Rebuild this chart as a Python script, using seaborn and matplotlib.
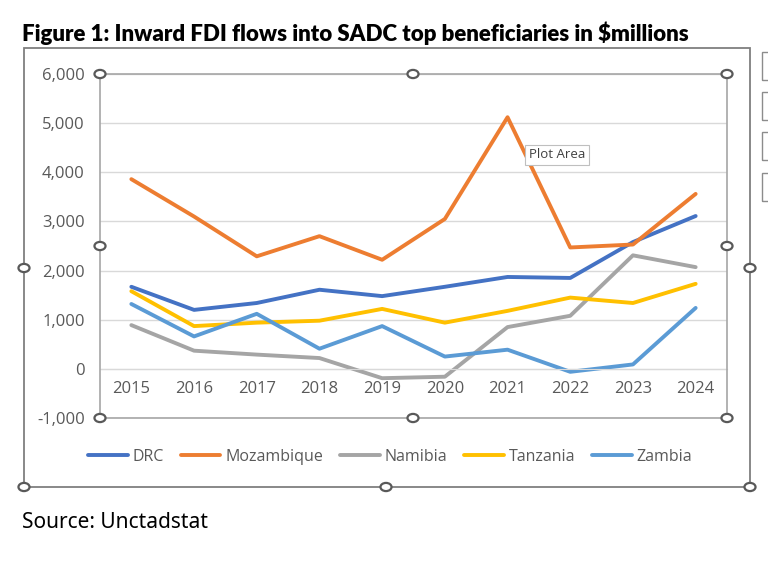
import matplotlib
matplotlib.use('Agg')
import matplotlib.pyplot as plt
from matplotlib.patches import Rectangle, Circle
import seaborn as sns
import pandas as pd

sns.set_style('white')
plt.rcParams['font.family'] = ['Open Sans', 'DejaVu Sans']

years = [2015, 2016, 2017, 2018, 2019, 2020, 2021, 2022, 2023, 2024]
drc = [1670, 1200, 1340, 1610, 1480, 1670, 1870, 1850, 2580, 3110]
mozambique = [3860, 3100, 2290, 2700, 2220, 3050, 5120, 2470, 2530, 3560]
namibia = [890, 370, 290, 220, -190, -160, 850, 1080, 2310, 2070]
tanzania = [1580, 870, 940, 980, 1220, 940, 1180, 1450, 1340, 1730]
zambia = [1320, 660, 1120, 410, 870, 250, 390, -60, 90, 1240]

countries = ['DRC', 'Mozambique', 'Namibia', 'Tanzania', 'Zambia']
colors = ['#4472C4', '#ED7D31', '#A5A5A5', '#FFC000', '#5B9BD5']

frames = []
for name, vals in zip(countries, [drc, mozambique, namibia, tanzania, zambia]):
    frames.append(pd.DataFrame({'year': years, 'value': vals, 'country': name}))
df = pd.concat(frames)

W, H = 768, 568
fig = plt.figure(figsize=(W / 100, H / 100), dpi=100)

def fx(x):
    return x / W

def fy(y):
    return 1 - y / H

ax = fig.add_axes([fx(100), fy(418), fx(727) - fx(100), fy(74) - fy(418)])
sns.lineplot(data=df, x='year', y='value', hue='country', hue_order=countries,
             palette=dict(zip(countries, colors)), lw=2.8, ax=ax, legend=True)

ax.set_xlim(2014.5, 2024.5)
ax.set_ylim(-1000, 6000)
ax.set_yticks(range(-1000, 6001, 1000))
ax.set_yticklabels([f'{v:,}' for v in range(-1000, 6001, 1000)])
ax.set_xticks(years)
ax.set_xlabel('')
ax.set_ylabel('')
ax.grid(axis='y', color='#D9D9D9', lw=1)
ax.set_axisbelow(True)
for s in ['top', 'left', 'right']:
    ax.spines[s].set_visible(False)
ax.spines['bottom'].set_position(('data', 0))
ax.spines['bottom'].set_color('#D9D9D9')
ax.tick_params(axis='x', length=0, pad=9, labelsize=12, labelcolor='#595959')
ax.tick_params(axis='y', length=0, pad=11, labelsize=12, labelcolor='#595959')

# plot area border (selected)
ax.add_patch(Rectangle((0, 0), 1, 1, transform=ax.transAxes, fill=False,
                       ec='#A6A6A6', lw=1.2, clip_on=False, zorder=5))

leg = ax.legend(loc='center', bbox_to_anchor=(fx(390), fy(457)),
                bbox_transform=fig.transFigure, ncol=5, frameon=False,
                fontsize=11.5, handlelength=2.5, handletextpad=0.3,
                columnspacing=1.05)
for t in leg.get_texts():
    t.set_color('#595959')
for h in leg.legend_handles:
    h.set_linewidth(2.8)

# chart area frame
fig.patches.append(Rectangle((fx(24), fy(487)), fx(750) - fx(24), fy(48) - fy(487),
                             transform=fig.transFigure, fill=False, ec='#7F7F7F',
                             lw=1.3, zorder=1))

handles = [(100, 74), (413, 74), (727, 74), (100, 246), (727, 246),
           (100, 418), (413, 418), (727, 418),
           (24, 268), (750, 268), (24, 487), (386, 487), (750, 487)]
for hx, hy in handles:
    fig.patches.append(Circle((fx(hx), fy(hy)), 0.0072, transform=fig.transFigure,
                              fc='white', ec='#595959', lw=1.6, zorder=6))

# chart buttons on the right edge
for by in [52, 92, 132, 173]:
    fig.patches.append(Rectangle((fx(762), fy(by + 28)), fx(20), fy(by) - fy(by + 28),
                                 transform=fig.transFigure, fill=False,
                                 ec='#8C8C8C', lw=1, zorder=6))

fig.text(fx(22), fy(33), 'Figure 1: Inward FDI flows into SADC top beneficiaries in $millions',
         fontsize=16, fontweight='heavy', family=['Lato', 'DejaVu Sans'],
         va='center', ha='left', color='black')
fig.text(fx(22), fy(523), 'Source: Unctadstat', fontsize=15, va='center', ha='left',
         family=['Noto Sans', 'DejaVu Sans'], color='black')

fig.text(fx(529), fy(155), 'Plot Area', fontsize=9.5, va='center', ha='left',
         color='#404040',
         bbox=dict(boxstyle='square,pad=0.3', fc='white', ec='#BFBFBF', lw=0.8))

fig.savefig('out.png', dpi=100)
